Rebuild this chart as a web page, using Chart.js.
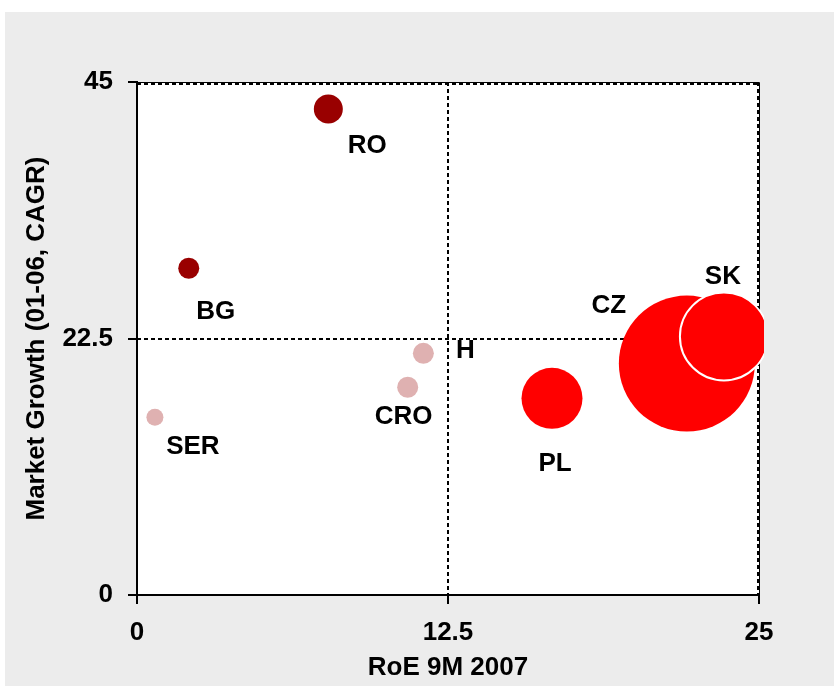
<!DOCTYPE html>
<html>
<head>
<meta charset="utf-8">
<script src="https://cdn.jsdelivr.net/npm/chart.js@4.4.0/dist/chart.umd.min.js"></script>
<style>
  html, body { margin: 0; padding: 0; background: #fff; }
  canvas { display: block; }
</style>
</head>
<body>
<canvas id="grafico" width="834" height="686"></canvas>
<script>
// Datos
const paises = ["SER", "BG", "RO", "CRO", "H", "PL", "CZ", "SK"];
const roe = [0.72, 2.08, 7.69, 10.88, 11.51, 16.68, 22.1, 23.59];
const crecimiento = [15.6, 28.66, 42.63, 18.22, 21.2, 17.25, 20.3, 22.68];
const tamano = [8.5, 10.5, 14.5, 10.5, 10.5, 30.5, 68, 44];
const grupos = ["claro", "oscuro", "oscuro", "claro", "claro", "rojo", "rojo", "rojo"];
const ticksX = [0, 12.5, 25];
const ticksY = [0, 22.5, 45];

const colores = {
    claro: "#dfb1b1",
    oscuro: "#990000",
    rojo: "#ff0000"
};

// Desplazamiento de cada etiqueta respecto al centro de su burbuja
const desplazamiento = {
    SER: [38, 30], BG: [27, 44], RO: [39, 37], CRO: [-4, 30],
    H: [42, -2], PL: [3, 65], CZ: [-78, -58], SK: [-1, -60]
};

const fuente = "'Liberation Sans', Arial, sans-serif";

// Fondo gris y area blanca
const fondo = {
    id: "fondo",
    beforeDraw(chart) {
        const ctx = chart.ctx;
        const a = chart.chartArea;
        ctx.save();
        ctx.fillStyle = "#ffffff";
        ctx.fillRect(0, 0, chart.width, chart.height);
        ctx.fillStyle = "#ececec";
        ctx.fillRect(5, 12, chart.width - 5, chart.height - 12);
        ctx.fillStyle = "#ffffff";
        ctx.fillRect(a.left, a.top, a.right - a.left, a.bottom - a.top);
        ctx.restore();
    }
};

// Lineas punteadas y borde superior/derecho
const lineas = {
    id: "lineas",
    beforeDatasetsDraw(chart) {
        const ctx = chart.ctx;
        const a = chart.chartArea;
        const xm = Math.round(chart.scales.x.getPixelForValue(12.5));
        const ym = Math.round(chart.scales.y.getPixelForValue(22.5));
        ctx.save();
        ctx.strokeStyle = "#000";
        ctx.lineWidth = 1;
        ctx.beginPath();
        ctx.moveTo(a.left, a.top + 0.5);
        ctx.lineTo(a.right + 0.5, a.top + 0.5);
        ctx.lineTo(a.right + 0.5, a.bottom);
        ctx.stroke();
        ctx.lineWidth = 2;
        ctx.setLineDash([4, 3]);
        ctx.beginPath();
        ctx.moveTo(a.left, a.top + 2);
        ctx.lineTo(a.right, a.top + 2);
        ctx.moveTo(a.right - 1, a.top);
        ctx.lineTo(a.right - 1, a.bottom);
        ctx.moveTo(xm, a.top);
        ctx.lineTo(xm, a.bottom);
        ctx.moveTo(a.left, ym);
        ctx.lineTo(a.right, ym);
        ctx.stroke();
        ctx.restore();
    }
};

// Etiquetas de los paises
const etiquetas = {
    id: "etiquetas",
    afterDatasetsDraw(chart) {
        const ctx = chart.ctx;
        const meta = chart.getDatasetMeta(0);
        ctx.save();
        ctx.fillStyle = "#000";
        ctx.font = "bold 26px " + fuente;
        ctx.textAlign = "center";
        ctx.textBaseline = "middle";
        meta.data.forEach(function (p, i) {
            const d = desplazamiento[paises[i]];
            ctx.fillText(paises[i], p.x + d[0], p.y + d[1]);
        });
        ctx.restore();
    }
};

const datos = paises.map(function (p, i) {
    return { x: roe[i], y: crecimiento[i], r: tamano[i] };
});

new Chart("grafico", {
    type: "bubble",
    data: {
        datasets: [{
            data: datos,
            backgroundColor: grupos.map(g => colores[g]),
            borderColor: paises.map((p, i) => p === "SK" ? "#ffffff" : colores[grupos[i]]),
            borderWidth: paises.map(p => p === "SK" ? 2 : 0),
            hoverRadius: 0,
            clip: { left: false, top: false, right: 5, bottom: false }
        }]
    },
    options: {
        responsive: false,
        animation: false,
        events: [],
        layout: { padding: { left: 0, top: 82, right: 75, bottom: 0 } },
        plugins: {
            legend: { display: false },
            tooltip: { enabled: false }
        },
        scales: {
            x: {
                type: "linear",
                min: 0,
                max: 25,
                afterBuildTicks: s => { s.ticks = ticksX.map(v => ({ value: v })); },
                afterFit: s => { s.height = 91; },
                grid: { drawOnChartArea: false, drawTicks: true, tickLength: 9, color: "#000", lineWidth: 2 },
                border: { display: true, color: "#000", width: 2 },
                ticks: {
                    color: "#000",
                    padding: 13,
                    maxRotation: 0,
                    autoSkip: false,
                    font: { family: fuente, size: 26, weight: "bold" },
                    callback: v => String(v)
                },
                title: {
                    display: true,
                    text: "RoE 9M 2007",
                    color: "#000",
                    font: { family: fuente, size: 26, weight: "bold" },
                    padding: { top: 0, bottom: 3 }
                }
            },
            y: {
                type: "linear",
                min: 0,
                max: 45,
                afterBuildTicks: s => { s.ticks = ticksY.map(v => ({ value: v })); },
                afterFit: s => { s.width = 137; },
                grid: { drawOnChartArea: false, drawTicks: true, tickLength: 9, color: "#000", lineWidth: 2 },
                border: { display: true, color: "#000", width: 2 },
                ticks: {
                    color: "#000",
                    padding: 15,
                    autoSkip: false,
                    font: { family: fuente, size: 26, weight: "bold" },
                    callback: v => String(v)
                },
                title: {
                    display: true,
                    text: "Market Growth (01-06, CAGR)",
                    color: "#000",
                    font: { family: fuente, size: 26, weight: "bold" },
                    padding: { top: 21, bottom: 0 }
                }
            }
        }
    },
    plugins: [fondo, lineas, etiquetas]
});
</script>
</body>
</html>
